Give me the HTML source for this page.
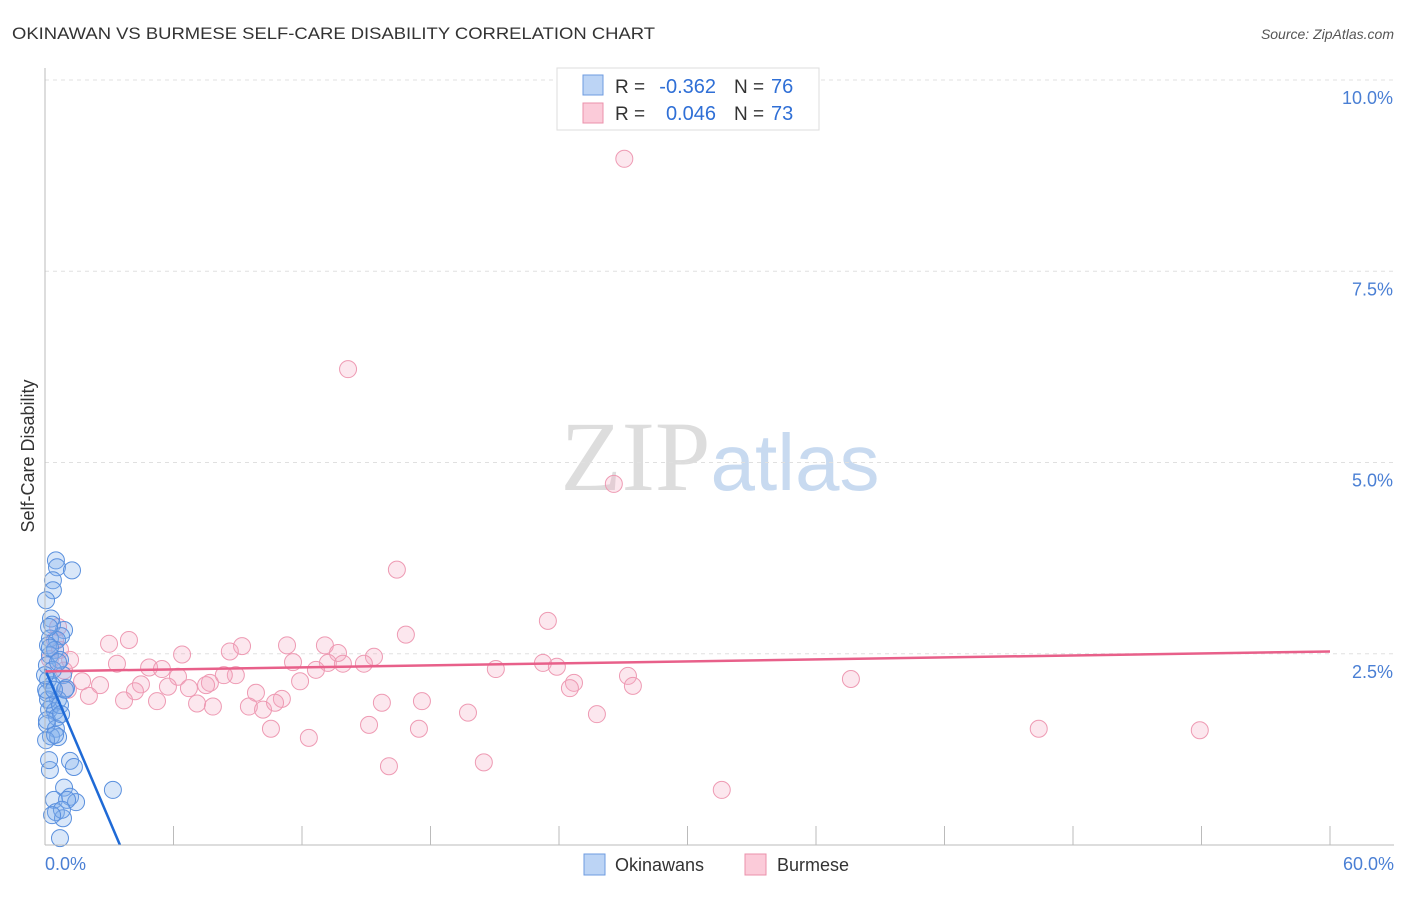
<!DOCTYPE html>
<html><head><meta charset="utf-8"><style>
body{margin:0;background:#fff;font-family:"Liberation Sans",sans-serif;}
</style></head><body>
<svg width="1406" height="892" xmlns="http://www.w3.org/2000/svg" id="svg">
<text x="12" y="39" font-size="17" fill="#333" textLength="643" lengthAdjust="spacingAndGlyphs">OKINAWAN VS BURMESE SELF-CARE DISABILITY CORRELATION CHART</text>
<text x="1394" y="39" font-size="14" fill="#555" text-anchor="end" font-style="italic">Source: ZipAtlas.com</text>
<text transform="translate(34,456) rotate(-90)" font-size="18" fill="#333" text-anchor="middle">Self-Care Disability</text>
<text x="720" y="490" font-size="100" text-anchor="middle"><tspan fill="#ddd" font-family="Liberation Serif">ZIP</tspan><tspan fill="#c8daf0" font-size="80">atlas</tspan></text>
<g id="grid"></g><g id="pts"></g><g id="trend"></g>
<line x1="45" y1="68" x2="45" y2="845" stroke="#bbb"/>
<line x1="45" y1="845" x2="1394" y2="845" stroke="#bbb"/>
<text x="45" y="870" font-size="18" fill="#4a7fd4">0.0%</text>
<text x="1394" y="870" font-size="18" fill="#4a7fd4" text-anchor="end">60.0%</text>
<g>
<rect x="557" y="68" width="262" height="62" fill="#fff" stroke="#ddd"/>
<rect x="583" y="75" width="20" height="20" fill="#bcd4f5" stroke="#6e9be0"/>
<rect x="583" y="103" width="20" height="20" fill="#fbcbd9" stroke="#eb90ab"/>
<text x="615" y="93" font-size="19" fill="#333">R =</text>
<text x="716" y="93" font-size="20" fill="#2f6fd6" text-anchor="end">-0.362</text>
<text x="734" y="93" font-size="19" fill="#333">N =</text>
<text x="771" y="93" font-size="20" fill="#2f6fd6">76</text>
<text x="615" y="120" font-size="19" fill="#333">R =</text>
<text x="716" y="120" font-size="20" fill="#2f6fd6" text-anchor="end">0.046</text>
<text x="734" y="120" font-size="19" fill="#333">N =</text>
<text x="771" y="120" font-size="20" fill="#2f6fd6">73</text>
</g>
<g>
<rect x="584" y="854" width="21" height="21" fill="#bcd4f5" stroke="#6e9be0"/>
<text x="615" y="871" font-size="18" fill="#333">Okinawans</text>
<rect x="745" y="854" width="21" height="21" fill="#fbcbd9" stroke="#eb90ab"/>
<text x="777" y="871" font-size="18" fill="#333">Burmese</text>
</g>
</svg>
<script>
const yTicks=[2.5,5.0,7.5,10.0];
const yTickLabels=["2.5%","5.0%","7.5%","10.0%"];
const xTicks=[6,12,18,24,30,36,42,48,54,60];
const pinkX=[27.05,14.15,26.56,16.43,23.48,16.85,3.92,2.99,9.2,11.3,13.07,8.63,13.68,6.4,15.36,3.36,11.58,13.21,23.25,23.9,4.86,5.46,13.91,14.89,12.65,21.05,8.91,27.22,37.63,6.21,1.17,1.73,2.57,4.48,11.91,24.7,27.45,7.7,24.51,4.2,5.74,6.72,7.52,8.35,2.05,9.85,11.06,3.69,5.23,7.1,7.84,9.52,10.18,10.74,15.73,17.6,19.75,25.77,15.13,10.55,17.46,46.4,53.92,12.32,20.49,16.06,31.6,0.7,0.47,0.89,0.23,0.61,1.07];
const pinkY=[8.97,6.22,4.72,3.6,2.93,2.75,2.68,2.63,2.6,2.61,2.61,2.53,2.51,2.49,2.46,2.37,2.39,2.38,2.38,2.33,2.32,2.3,2.37,2.37,2.29,2.3,2.22,2.21,2.17,2.2,2.42,2.14,2.09,2.1,2.14,2.12,2.08,2.12,2.05,2.01,2.07,2.05,2.09,2.22,1.95,1.99,1.91,1.89,1.88,1.85,1.81,1.81,1.77,1.86,1.86,1.88,1.73,1.71,1.57,1.52,1.52,1.52,1.5,1.4,1.08,1.03,0.72,2.55,2.68,2.28,2.43,2.85,2.03];
const blueX=[0.51,0.56,1.26,0.37,0.37,0.28,0.33,0.89,0.75,0.23,0.56,0.14,0.47,0.23,0.7,0.09,0.84,0.14,0.33,0.98,0.09,0.61,0.33,0.19,0.47,0.56,0.09,0.51,0.28,0.61,1.17,1.35,0.23,3.17,0.89,1.17,0.42,1.45,0.51,0.84,0.7,0.14,0.05,0.37,0.19,0.7,0.93,0.05,0.47,0.09,0.23,0.61,0.42,0.0,0.75,0.19,1.03,0.79,0.33,0.05];
const blueY=[3.72,3.63,3.59,3.46,3.33,2.96,2.88,2.81,2.73,2.7,2.68,2.61,2.55,2.48,2.42,2.35,2.22,2.16,2.09,2.05,1.99,1.9,1.83,1.77,1.75,1.67,1.58,1.52,1.42,1.41,1.1,1.02,0.98,0.72,0.75,0.63,0.59,0.56,0.43,0.35,0.09,1.9,2.03,2.29,2.85,1.83,2.03,1.37,1.44,1.63,2.58,2.39,2.03,2.22,1.71,1.11,0.59,0.46,0.39,3.2];
const blueTrend=[[0,2.3],[3.5,0]];
const pinkTrend=[[0,2.27],[60,2.53]];
const X=v=>45+v*(1285/60), Y=v=>845-v*76.5;
const NS="http://www.w3.org/2000/svg";
function mk(p,t,a){const e=document.createElementNS(NS,t);for(const k in a)e.setAttribute(k,a[k]);document.getElementById(p).appendChild(e);return e;}
yTicks.forEach((t,i)=>{
 const l=mk('grid','line',{x1:45,x2:1394,y1:Y(t),y2:Y(t),stroke:'#e0e0e0','stroke-dasharray':'4,4'});
 
 
 const tx=mk('grid','text',{x:1393,y:Y(t)+24,'font-size':18,fill:'#4a7fd4','text-anchor':'end'});
 tx.textContent=yTickLabels[i];
 
 
});
xTicks.forEach(t=>{
 const l=mk('grid','line',{x1:X(t),x2:X(t),y1:826,y2:845,stroke:'#bbb'});
 
 
});
pinkX.forEach((v,i)=>{
 const c=mk('pts','circle',{cx:X(v),cy:Y(pinkY[i]),r:8.5,fill:'rgba(246,170,195,0.28)',stroke:'#ee9ab3','stroke-width':1});
 
 
});
blueX.forEach((v,i)=>{
 const c=mk('pts','circle',{cx:X(v),cy:Y(blueY[i]),r:8.5,fill:'rgba(130,175,236,0.3)',stroke:'#5a90de','stroke-width':1});
 
 
});
const bt=mk('trend','line',{x1:X(blueTrend[0][0]),y1:Y(blueTrend[0][1]),x2:X(blueTrend[1][0]),y2:Y(blueTrend[1][1]),stroke:'#1f6ad6','stroke-width':2.5});


const pt=mk('trend','line',{x1:X(pinkTrend[0][0]),y1:Y(pinkTrend[0][1]),x2:X(pinkTrend[1][0]),y2:Y(pinkTrend[1][1]),stroke:'#e8608a','stroke-width':2.5});


</script>
</body></html>
